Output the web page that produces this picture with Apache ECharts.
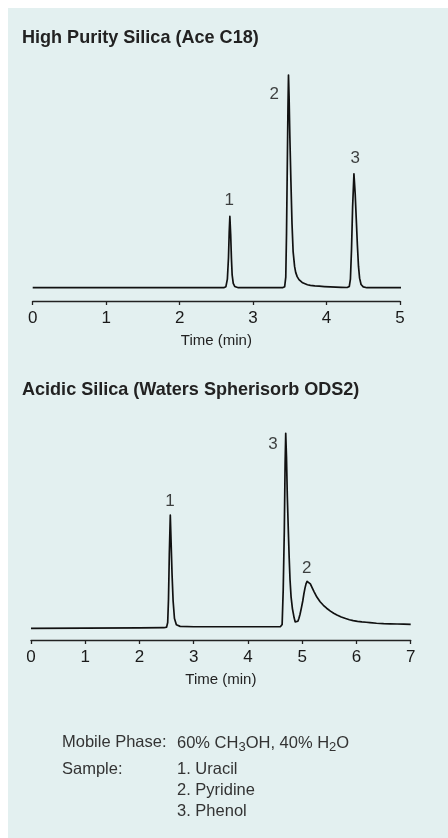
<!DOCTYPE html>
<html>
<head>
<meta charset="utf-8">
<script src="https://cdn.jsdelivr.net/npm/echarts@6/dist/echarts.min.js"></script>
<style>
  html, body { margin: 0; padding: 0; background: #fff; }
  #main { width: 448px; height: 838px; }
</style>
</head>
<body>
<div id="main"></div>
<script>
var FONT = "'Liberation Sans', Arial, sans-serif";

// top chromatogram: Ace C18, time (min) vs detector signal (peak 2 = 100)
var aceTrace = [
  [0, 0], [1, 0], [2, 0], [2.4, 0], [2.6, 0], [2.63, 0.5], [2.65, 4], [2.665, 14], [2.675, 26],
  [2.684, 33.5], [2.695, 25], [2.705, 14], [2.715, 6], [2.73, 2], [2.75, 0.6], [2.8, 0],
  [3.4, 0], [3.43, 0.5], [3.445, 5], [3.455, 25], [3.465, 55], [3.475, 85], [3.482, 100],
  [3.49, 90], [3.5, 72], [3.515, 50], [3.53, 30], [3.545, 17], [3.565, 10], [3.58, 7.2],
  [3.6, 5.2], [3.625, 3.8], [3.65, 2.9], [3.675, 2.3], [3.7, 1.9], [3.74, 1.4], [3.78, 1.1],
  [3.84, 0.85], [3.9, 0.7], [3.97, 0.55], [4.05, 0.4], [4.2, 0.2], [4.28, 0.1],
  [4.31, 0.6], [4.325, 4], [4.34, 18], [4.355, 38], [4.373, 53.5], [4.39, 44], [4.405, 32],
  [4.42, 20], [4.435, 10], [4.45, 4.5], [4.47, 1.5], [4.5, 0.4], [4.55, 0], [5.05, 0]
];
var acePeakLabels = [[2.674, 40.9, '1'], [3.287, 91, '2'], [4.39, 61, '3']];

// bottom chromatogram: Waters Spherisorb ODS2 (peak 3 = 100)
var odsTrace = [
  [0, 0], [1, 0.1], [2, 0.2], [2.45, 0.3], [2.5, 0.6], [2.52, 3], [2.535, 15], [2.55, 38],
  [2.568, 58], [2.585, 42], [2.6, 28], [2.62, 14], [2.645, 5], [2.68, 1.8], [2.75, 1],
  [3, 0.8], [4, 0.8], [4.6, 0.9], [4.63, 2], [4.65, 20], [4.67, 50], [4.685, 85], [4.696, 100],
  [4.71, 88], [4.725, 68], [4.744, 50], [4.76, 36], [4.775, 25], [4.795, 16], [4.82, 10],
  [4.85, 5.5], [4.87, 3.3], [4.885, 2.6], [4.9, 2.7], [4.92, 3.6], [4.94, 5.2], [4.96, 7.2],
  [4.985, 10.5], [5.01, 14], [5.03, 17.5], [5.05, 20.5], [5.07, 22.8], [5.09, 24.1], [5.1, 24.3],
  [5.12, 24], [5.15, 22.8], [5.18, 21], [5.22, 18.7], [5.27, 16], [5.33, 13.6], [5.39, 11.8],
  [5.45, 10.3], [5.52, 8.8], [5.58, 7.7], [5.64, 6.8], [5.72, 5.8], [5.8, 5], [5.87, 4.4],
  [5.94, 3.9], [6.02, 3.55], [6.1, 3.3], [6.18, 3.1], [6.25, 2.9], [6.37, 2.6], [6.5, 2.4],
  [6.62, 2.3], [6.75, 2.2], [6.87, 2.1], [7, 2]
];
var odsPeakLabels = [[2.563, 64.9, '1'], [4.462, 94.5, '3'], [5.083, 30.8, '2']];

var titles = ['High Purity Silica (Ace C18)', 'Acidic Silica (Waters Spherisorb ODS2)'];
var axisName = 'Time (min)';
var sampleNames = ['1. Uracil', '2. Pyridine', '3. Phenol'];

var chart = echarts.init(document.getElementById('main'), null, { renderer: 'canvas' });

function xAxisFor(idx, max) {
  return {
    type: 'value', gridIndex: idx, min: 0, max: max, interval: 1,
    axisLine: { onZero: false, lineStyle: { color: '#222', width: 1.3 } },
    axisTick: { length: 4, lineStyle: { color: '#222', width: 1.3 } },
    axisLabel: { margin: 9, fontSize: 17, color: '#1a1a1a', fontFamily: FONT },
    splitLine: { show: false },
    name: axisName, nameLocation: 'middle', nameGap: 32,
    nameTextStyle: { fontSize: 15, color: '#222', fontFamily: FONT }
  };
}

function traceSeries(idx, data) {
  return {
    type: 'line', xAxisIndex: idx, yAxisIndex: idx, data: data, showSymbol: false, clip: false,
    silent: true,
    lineStyle: { color: '#111', width: 1.7, join: 'round' }
  };
}

function labelSeries(idx, data) {
  return {
    type: 'scatter', xAxisIndex: idx, yAxisIndex: idx, symbolSize: 0, silent: true,
    data: data,
    label: {
      show: true, position: 'inside', fontSize: 17, color: '#111', fontFamily: FONT,
      formatter: function (p) { return p.value[2]; }
    }
  };
}

function titleText(y, text) {
  return {
    type: 'text', x: 22, y: y, scaleX: 0.95,
    style: { text: text, fontSize: 19, fontWeight: 'bold', fill: '#222', fontFamily: FONT, verticalAlign: 'middle' }
  };
}

function footText(x, y, text) {
  return {
    type: 'text', x: x, y: y,
    style: { text: text, fontSize: 16.5, fill: '#333', fontFamily: FONT, verticalAlign: 'middle' }
  };
}

var option = {
  backgroundColor: '#fff',
  animation: false,
  grid: [
    { left: 32.7, right: 48, top: 75, height: 226 },
    { left: 31, right: 37.3, top: 433.3, height: 206.7 }
  ],
  xAxis: [xAxisFor(0, 5), xAxisFor(1, 7)],
  yAxis: [
    { type: 'value', gridIndex: 0, min: -6.25, max: 100, show: false },
    { type: 'value', gridIndex: 1, min: -6, max: 100, show: false }
  ],
  graphic: [
    { type: 'rect', z: -10, silent: true, shape: { x: 8, y: 8, width: 440, height: 830 }, style: { fill: '#e3f0f0' } },
    titleText(38, titles[0]),
    titleText(390, titles[1]),
    footText(62, 742, 'Mobile Phase:'),
    {
      type: 'text', x: 177, y: 742,
      style: {
        text: '{a|60% CH}{s|3}{a|OH, 40% H}{s|2}{a|O}', verticalAlign: 'middle',
        rich: {
          a: { fontSize: 16.5, fill: '#333', fontFamily: FONT, lineHeight: 20, verticalAlign: 'bottom' },
          s: { fontSize: 13, fill: '#333', fontFamily: FONT, lineHeight: 20, verticalAlign: 'bottom', padding: [0, 0, -2, 0] }
        }
      }
    },
    footText(62, 769, 'Sample:'),
    footText(177, 769, sampleNames[0]),
    footText(177, 790, sampleNames[1]),
    footText(177, 811, sampleNames[2])
  ],
  series: [
    traceSeries(0, aceTrace),
    traceSeries(1, odsTrace),
    labelSeries(0, acePeakLabels),
    labelSeries(1, odsPeakLabels)
  ]
};

chart.setOption(option);
</script>
</body>
</html>
